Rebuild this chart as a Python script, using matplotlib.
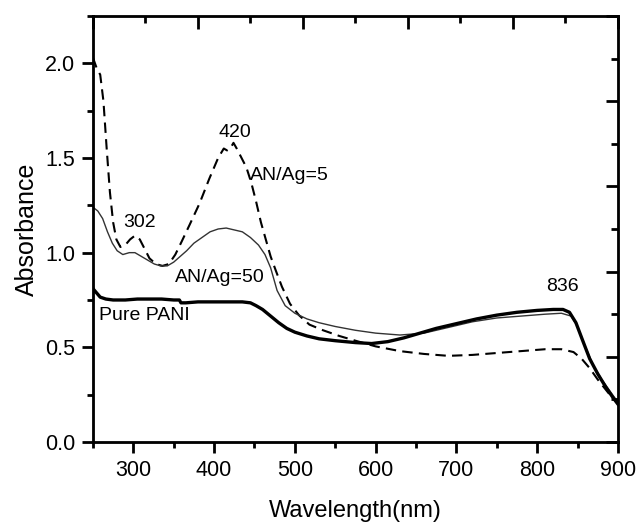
import matplotlib.pyplot as plt
from matplotlib.ticker import MultipleLocator, FixedLocator

plt.rcParams['font.family'] = ['Liberation Sans', 'DejaVu Sans']

# AN/Ag=5 (dashed)
wl_ag5 = [250, 255, 259, 263, 267, 271, 275, 279, 284, 290, 296, 302, 308, 314, 320,
          328, 336, 344, 352, 360, 370, 382, 394, 405, 412, 416, 420, 424, 428, 434,
          440, 446, 452, 458, 464, 470, 476, 484, 494, 505, 518, 535, 555, 575, 600,
          630, 660, 690, 720, 750, 780, 810, 830, 845, 855, 865, 875, 888, 900]
abs_ag5 = [2.03, 1.97, 1.94, 1.80, 1.55, 1.32, 1.16, 1.07, 1.03, 1.04, 1.07, 1.09, 1.07, 1.02, 0.97,
           0.94, 0.93, 0.94, 0.99, 1.06, 1.15, 1.26, 1.39, 1.50, 1.55, 1.54, 1.55, 1.58, 1.55, 1.50,
           1.45, 1.37, 1.27, 1.16, 1.07, 0.98, 0.91, 0.82, 0.73, 0.67, 0.62, 0.59, 0.56, 0.535, 0.505,
           0.48, 0.465, 0.455, 0.46, 0.47, 0.48, 0.49, 0.49, 0.475, 0.44, 0.39, 0.33, 0.26, 0.20]

# AN/Ag=50 (thin solid)
wl_ag50 = [250, 256, 262, 268, 274, 280, 287, 295, 302, 310, 318, 326, 334, 342, 350,
           358, 366, 375, 385, 395, 405, 415, 425, 435, 445, 455, 463, 470, 478, 488,
           500, 515, 530, 550, 575, 600, 630, 660, 690, 720, 750, 780, 810, 830, 842,
           850, 860, 870, 880, 890, 900]
abs_ag50 = [1.24, 1.22, 1.18, 1.11, 1.05, 1.01, 0.99, 1.00, 1.00, 0.98, 0.96, 0.94, 0.93, 0.93, 0.95,
            0.98, 1.01, 1.05, 1.08, 1.11, 1.125, 1.13, 1.12, 1.11, 1.08, 1.04, 0.99, 0.92, 0.80, 0.72,
            0.68, 0.65, 0.63, 0.61, 0.59, 0.575, 0.565, 0.575, 0.605, 0.635, 0.655, 0.665, 0.675, 0.68, 0.665,
            0.61, 0.50, 0.40, 0.33, 0.27, 0.21]

# Pure PANI (thick solid)
wl_pani = [250, 254, 259, 266, 275, 290, 305, 320, 335, 350, 357, 359, 365, 380, 400,
           420, 435, 445, 452, 460, 470, 480, 490, 500, 515, 530, 550, 575, 595, 615,
           635, 655, 675, 700, 725, 750, 775, 800, 820, 832, 840, 848, 856, 865, 875,
           885, 893, 900]
abs_pani = [0.81, 0.79, 0.765, 0.755, 0.75, 0.75, 0.755, 0.755, 0.755, 0.75, 0.75, 0.735, 0.735, 0.74, 0.74,
            0.74, 0.74, 0.735, 0.72, 0.70, 0.665, 0.63, 0.60, 0.58, 0.56, 0.545, 0.535, 0.525, 0.52, 0.53,
            0.55, 0.575, 0.60, 0.625, 0.65, 0.67, 0.685, 0.695, 0.70, 0.70, 0.685, 0.63, 0.54, 0.44, 0.36,
            0.29, 0.24, 0.20]

fig = plt.figure(figsize=(6.41, 5.24), dpi=100)
ax = fig.add_axes([0.145, 0.1565, 0.819, 0.813])

ax.plot(wl_ag5, abs_ag5, color='black', lw=1.5, linestyle=(0, (5, 3)))
ax.plot(wl_ag50, abs_ag50, color='#333333', lw=1.0)
ax.plot(wl_pani, abs_pani, color='black', lw=2.4)

ax.set_xlim(250, 900)
ax.set_ylim(0, 2.25)
ax.xaxis.set_major_locator(FixedLocator([300, 400, 500, 600, 700, 800, 900]))
ax.xaxis.set_minor_locator(MultipleLocator(50))
ax.yaxis.set_major_locator(MultipleLocator(0.5))
ax.yaxis.set_minor_locator(MultipleLocator(0.25))
ax.tick_params(axis='both', which='major', direction='out', length=8, width=2,
               labelsize=15.5, pad=5)
ax.tick_params(axis='both', which='minor', direction='out', length=4, width=2)
for s in ax.spines.values():
    s.set_linewidth(2)

ax.set_xlabel('Wavelength(nm)', fontsize=17, labelpad=14)
ax.set_ylabel('Absorbance', fontsize=18, labelpad=4)

# top and right axes with their own (10-part) ticks, pointing inward
top = ax.twiny()
top.set_xlim(0, 10)
top.xaxis.set_major_locator(MultipleLocator(2))
top.xaxis.set_minor_locator(MultipleLocator(1))
top.tick_params(axis='x', which='both', direction='in', labeltop=False, width=2)
top.tick_params(axis='x', which='major', length=9)
top.tick_params(axis='x', which='minor', length=5)
right = ax.twinx()
right.set_ylim(0, 10)
right.yaxis.set_major_locator(MultipleLocator(2))
right.yaxis.set_minor_locator(MultipleLocator(1))
right.tick_params(axis='y', which='both', direction='in', labelright=False, width=2)
right.tick_params(axis='y', which='major', length=9)
right.tick_params(axis='y', which='minor', length=5)

ax.text(426, 1.635, '420', fontsize=14, ha='center', va='center')
ax.text(444, 1.41, 'AN/Ag=5', fontsize=14, ha='left', va='center')
ax.text(308, 1.16, '302', fontsize=14, ha='center', va='center')
ax.text(351, 0.87, 'AN/Ag=50', fontsize=14, ha='left', va='center')
ax.text(258, 0.67, 'Pure PANI', fontsize=14, ha='left', va='center')
ax.text(831, 0.82, '836', fontsize=14, ha='center', va='center')

fig.savefig('out.png', dpi=100)
